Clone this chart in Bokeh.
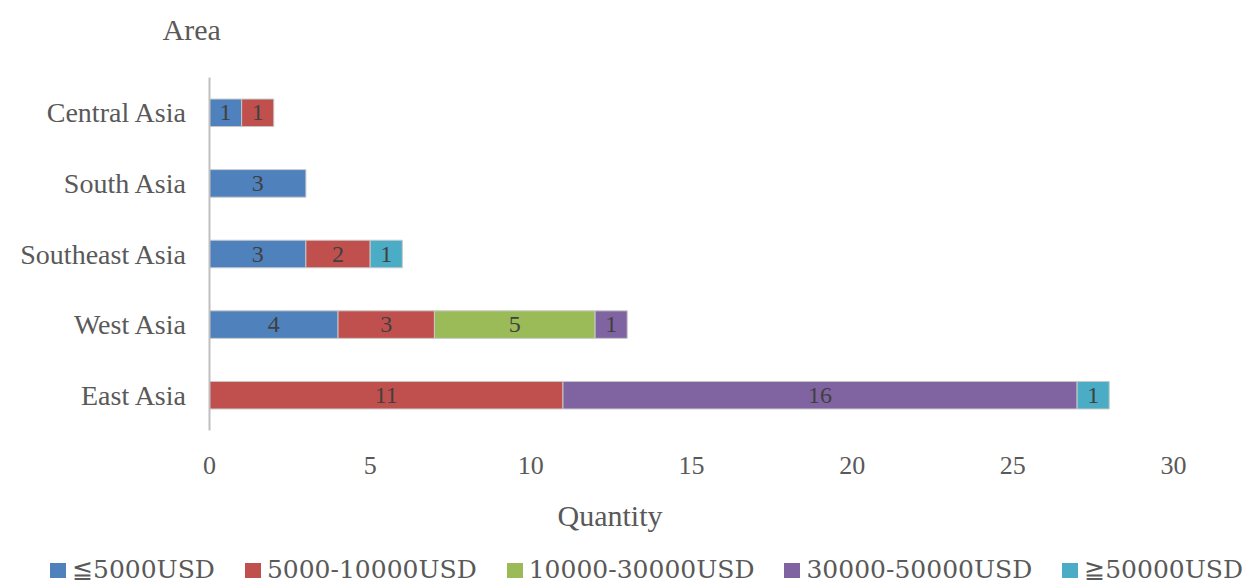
from bokeh.plotting import figure
from bokeh.layouts import column
from bokeh.models import ColumnDataSource, Title, FixedTicker, Range1d, Div
from bokeh.core.properties import value
from bokeh.embed import file_html
from bokeh.resources import INLINE

# Regions, listed bottom to top as they appear on the axis
areas = ["East Asia", "West Asia", "Southeast Asia", "South Asia", "Central Asia"]

# Number of projects per investment band in each region
band_labels = ["≦5000USD", "5000-10000USD", "10000-30000USD", "30000-50000USD", "≧50000USD"]
le_5000 = [0, 4, 3, 3, 1]
b5000_10000 = [11, 3, 2, 0, 1]
b10000_30000 = [0, 5, 0, 0, 0]
b30000_50000 = [16, 1, 0, 0, 0]
ge_50000 = [1, 0, 1, 0, 0]

series = [le_5000, b5000_10000, b10000_30000, b30000_50000, ge_50000]
colors = ["#4F81BD", "#C0504D", "#9BBB59", "#8064A2", "#4BACC6"]

x_ticks = [0, 5, 10, 15, 20, 25, 30]

FONT = "Liberation Serif"
LEGEND_FONT = "DejaVu Serif"
TEXT_GRAY = "#595959"

p = figure(
    width=1260, height=556,
    y_range=areas, x_range=Range1d(0, 30),
    output_backend="svg", toolbar_location=None,
    min_border_left=209, min_border_right=87,
    min_border_top=77, min_border_bottom=126,
    outline_line_color=None,
)
p.y_range.range_padding = 0

# Stacked segments: only non-zero counts are drawn
running = [0] * len(areas)
for label, vals, col in zip(band_labels, series, colors):
    ys, lefts, rights, mids, texts = [], [], [], [], []
    for i, v in enumerate(vals):
        if v > 0:
            ys.append(areas[i])
            lefts.append(running[i])
            rights.append(running[i] + v)
            mids.append(running[i] + v / 2)
            texts.append(str(v))
        running[i] += v
    src = ColumnDataSource(dict(y=ys, left=lefts, right=rights, mid=mids, txt=texts))
    p.hbar(y="y", left="left", right="right", height=0.39, source=src,
           fill_color=col, line_color="#c8c8c8", line_width=1)
    p.text(x="mid", y="y", text="txt", source=src,
           text_align="center", text_baseline="middle",
           text_font=value(FONT), text_font_size="24px", text_color="#404040")

# Axes
p.xgrid.visible = False
p.ygrid.visible = False

p.xaxis.ticker = FixedTicker(ticks=x_ticks)
p.xaxis.axis_line_color = None
p.xaxis.major_tick_line_color = None
p.xaxis.minor_tick_line_color = None
p.xaxis.major_label_standoff = 20
p.xaxis.major_label_text_font = FONT
p.xaxis.major_label_text_font_size = "26px"
p.xaxis.major_label_text_color = TEXT_GRAY

p.yaxis.axis_line_color = "#bfbfbf"
p.yaxis.axis_line_width = 2
p.yaxis.major_tick_line_color = None
p.yaxis.minor_tick_line_color = None
p.yaxis.major_label_standoff = 16
p.yaxis.major_label_text_font = FONT
p.yaxis.major_label_text_font_size = "28px"
p.yaxis.major_label_text_color = TEXT_GRAY

# Spacer between the frame and the category axis title
p.add_layout(Title(text=" ", text_font_size="10px", standoff=7), "above")
p.add_layout(Title(text="Area", align="left", offset=-47, standoff=20,
                   vertical_align="top",
                   text_font=FONT, text_font_size="30px",
                   text_font_style="normal", text_color=TEXT_GRAY), "above")
p.add_layout(Title(text="Quantity", align="left", offset=348, standoff=44,
                   vertical_align="top",
                   text_font=FONT, text_font_size="30px",
                   text_font_style="normal", text_color=TEXT_GRAY), "below")

# Legend row under the chart
entries = "".join(
    f'<span style="display:inline-flex;align-items:center;margin-right:30px;">'
    f'<span style="display:inline-block;width:16px;height:15px;background:{c};'
    f'margin-right:6px;"></span><span>{lab}</span></span>'
    for lab, c in zip(band_labels, colors)
)
legend_html = (
    '<div style="display:flex;align-items:center;height:28px;padding-left:50px;'
    f"font-family:'{LEGEND_FONT}';font-size:25px;line-height:28px;"
    f'color:{TEXT_GRAY};white-space:nowrap;">{entries}</div>'
)
legend_row = Div(text=legend_html, width=1260, height=28, margin=0)

layout = column(p, legend_row, spacing=0)
open("out.html", "w").write(file_html(layout, INLINE))
